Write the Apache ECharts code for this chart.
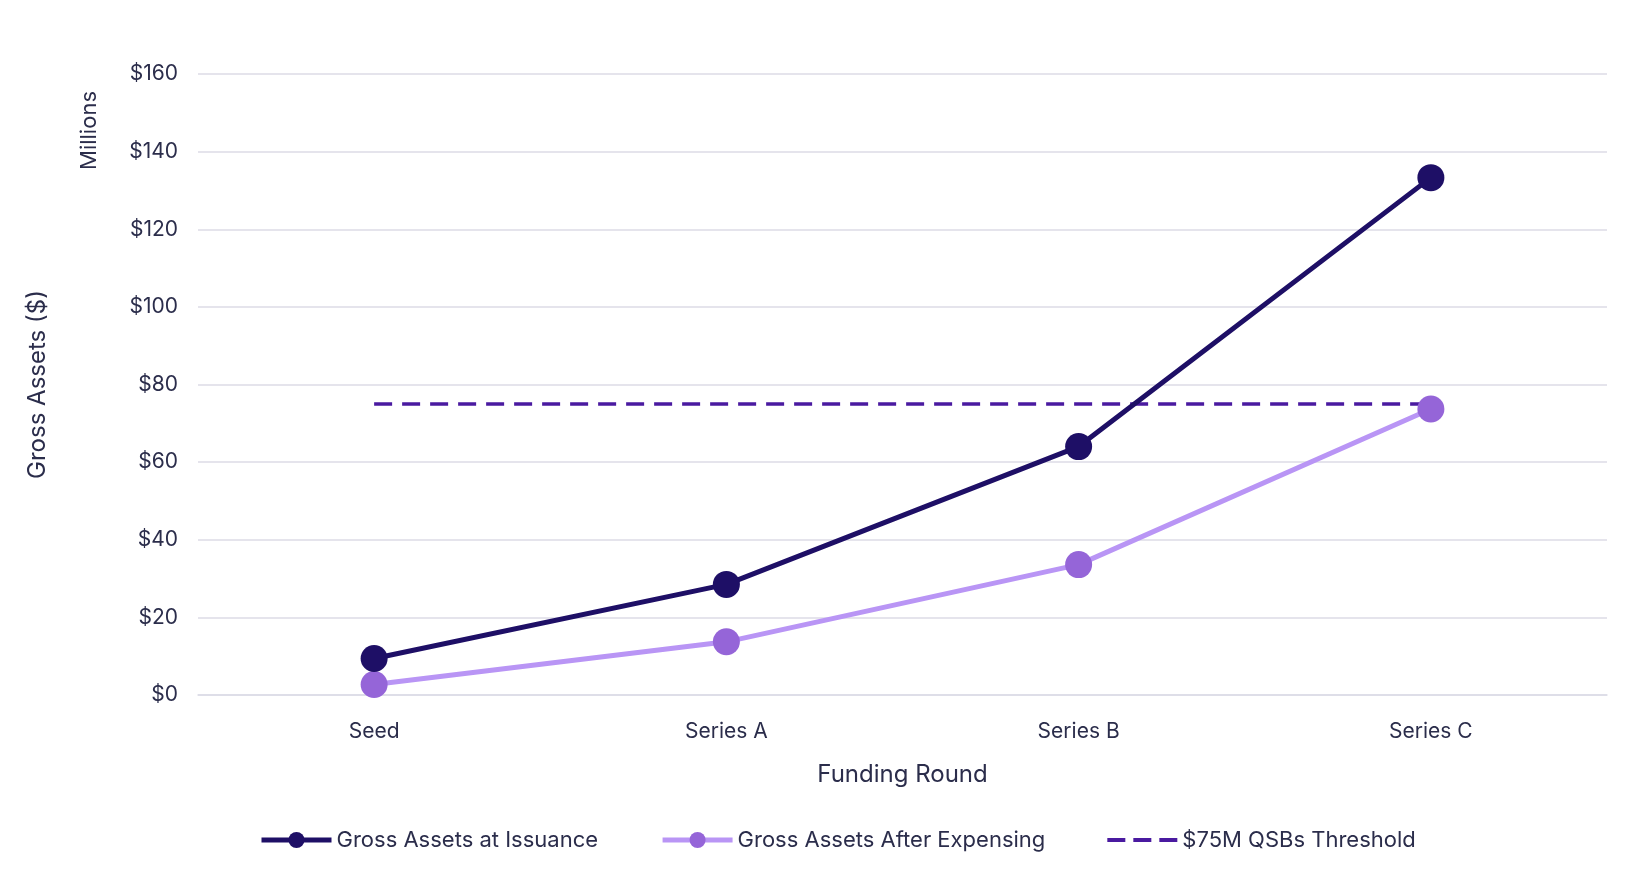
<!DOCTYPE html>
<html>
<head>
<meta charset="utf-8">
<script src="https://cdn.jsdelivr.net/npm/echarts@6/dist/echarts.min.js"></script>
<style>
  html, body { margin: 0; padding: 0; background: #fff; }
  #main { width: 1637px; height: 884px; }
</style>
</head>
<body>
<div id="main"></div>
<script>
// data (millions of dollars)
var rounds = ['Seed', 'Series A', 'Series B', 'Series C'];
var grossAtIssuance = [9.4, 28.5, 64, 133.3];
var grossAfterExpensing = [2.7, 13.7, 33.6, 73.7];
var threshold = [75, 75, 75, 75];

var textColor = '#2b2d4b';
var font = 'Inter, "Noto Sans", sans-serif';

var chart = echarts.init(document.getElementById('main'));

var option = {
    backgroundColor: '#ffffff',
    textStyle: { fontFamily: font, color: textColor },
    grid: {
        left: 198,
        right: 30,
        top: 74,
        bottom: 189
    },
    legend: {
        bottom: 28,
        left: 254,
        itemWidth: 70,
        itemHeight: 20,
        itemGap: 62,
        lineStyle: { width: 5 },
        textStyle: { fontSize: 22, color: textColor, fontFamily: font },
        data: [
            'Gross Assets at Issuance',
            'Gross Assets After Expensing',
            {
                name: '$75M QSBs Threshold',
                icon: 'path://M0,0h18v4h-18z M26,0h18v4h-18z M52,0h18v4h-18z',
                itemStyle: { color: '#4a1aa0' }
            }
        ]
    },
    xAxis: {
        type: 'category',
        data: rounds,
        boundaryGap: true,
        name: 'Funding Round',
        nameLocation: 'middle',
        nameGap: 68,
        nameTextStyle: { fontSize: 24, color: textColor },
        axisLine: { show: true, lineStyle: { color: '#dcdbe6', width: 1.5 } },
        axisTick: { show: false },
        axisLabel: { fontSize: 21, color: textColor, margin: 26 }
    },
    yAxis: {
        type: 'value',
        min: 0,
        max: 160,
        interval: 20,
        name: 'Gross Assets ($)',
        nameLocation: 'middle',
        nameGap: 148,
        nameTextStyle: { fontSize: 24, color: textColor },
        axisLine: { show: false },
        axisTick: { show: false },
        axisLabel: {
            fontSize: 21,
            color: textColor,
            margin: 20,
            formatter: function (v) { return '$' + v; }
        },
        splitLine: { lineStyle: { color: '#dcdbe6', width: 1.5 } }
    },
    graphic: [{
        type: 'text',
        left: 78,
        top: 91,
        rotation: Math.PI / 2,
        style: {
            text: 'Millions',
            fontSize: 22,
            fill: textColor,
            fontFamily: font
        }
    }],
    series: [
        {
            name: 'Gross Assets at Issuance',
            type: 'line',
            data: grossAtIssuance,
            symbol: 'circle',
            symbolSize: 27,
            z: 3,
            lineStyle: { color: '#1e0f66', width: 5 },
            itemStyle: { color: '#1e0f66' }
        },
        {
            name: 'Gross Assets After Expensing',
            type: 'line',
            data: grossAfterExpensing,
            symbol: 'circle',
            symbolSize: 27,
            z: 2,
            lineStyle: { color: '#b995f5', width: 5 },
            itemStyle: { color: '#9565d8' }
        },
        {
            name: '$75M QSBs Threshold',
            type: 'line',
            data: threshold,
            symbol: 'none',
            z: 1,
            lineStyle: { color: '#4a1aa0', width: 3.5, type: [18, 10] },
            itemStyle: { color: '#4a1aa0' }
        }
    ]
};

chart.setOption(option);
</script>
</body>
</html>
